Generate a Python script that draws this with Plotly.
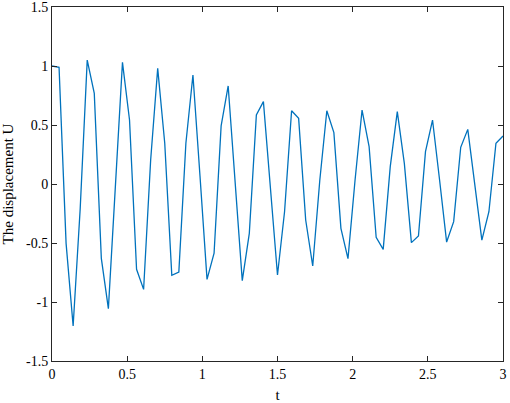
"""Damped displacement response U(t), MATLAB-style line plot."""
import numpy as np
import plotly.graph_objects as go

U = [
    1.0, 0.989, -0.503, -1.203, -0.21, 1.05, 0.768, -0.63, -1.056, 0.02,
    1.031, 0.542, -0.723, -0.893, 0.203, 0.980, 0.345, -0.774, -0.746, 0.345,
    0.924, 0.07, -0.808, -0.587, 0.492, 0.831, 0.0, -0.819, -0.418, 0.585,
    0.698, -0.05, -0.771, -0.235, 0.621, 0.556, -0.305, -0.695, 0.03, 0.621,
    0.435, -0.376, -0.633, 0.03, 0.627, 0.316, -0.452, -0.554, 0.147, 0.613,
    0.175, -0.497, -0.441, 0.274, 0.542, 0.034, -0.492, -0.319, 0.311, 0.463,
    -0.005, -0.475, -0.235, 0.345, 0.407,
]
t = np.linspace(0, 3, len(U))

x_ticks = [0, 0.5, 1, 1.5, 2, 2.5, 3]
x_labels = ["0", "0.5", "1", "1.5", "2", "2.5", "3"]
y_ticks = [-1.5, -1, -0.5, 0, 0.5, 1, 1.5]
y_labels = ["-1.5", "-1", "-0.5", "0", "0.5", "1", "1.5"]

FONT = "Liberation Serif, Times New Roman, serif"
AXIS = "#262626"

fig = go.Figure(
    go.Scatter(
        x=t, y=U, mode="lines",
        line=dict(color="#0072BD", width=1.3),
        showlegend=False,
    )
)

axis_common = dict(
    showline=True, linecolor=AXIS, linewidth=1, mirror="ticks",
    ticks="inside", ticklen=5, tickcolor=AXIS, tickwidth=1,
    showgrid=False, zeroline=False, automargin=False,
    ticklabeloverflow="allow",
    tickfont=dict(family=FONT, size=14, color="black"),
)

fig.update_xaxes(
    range=[0, 3], tickvals=x_ticks, ticktext=x_labels,
    title=dict(text="t", font=dict(family=FONT, size=15, color="black")),
    **axis_common,
)
fig.update_yaxes(
    range=[-1.5, 1.5], tickvals=y_ticks, ticktext=y_labels,
    title=dict(text="The displacement U", font=dict(family=FONT, size=15, color="black")),
    **axis_common,
)

fig.update_layout(
    width=510, height=403,
    margin=dict(l=52, r=7, t=7, b=42),
    paper_bgcolor="white", plot_bgcolor="white",
    font=dict(family=FONT, color="black"),
)

# drop the default 8px page margin so the 510x403 figure fills the window
fig.write_html(
    "out.html",
    config={"displayModeBar": False},
    post_script="document.body.style.margin='0';",
)
